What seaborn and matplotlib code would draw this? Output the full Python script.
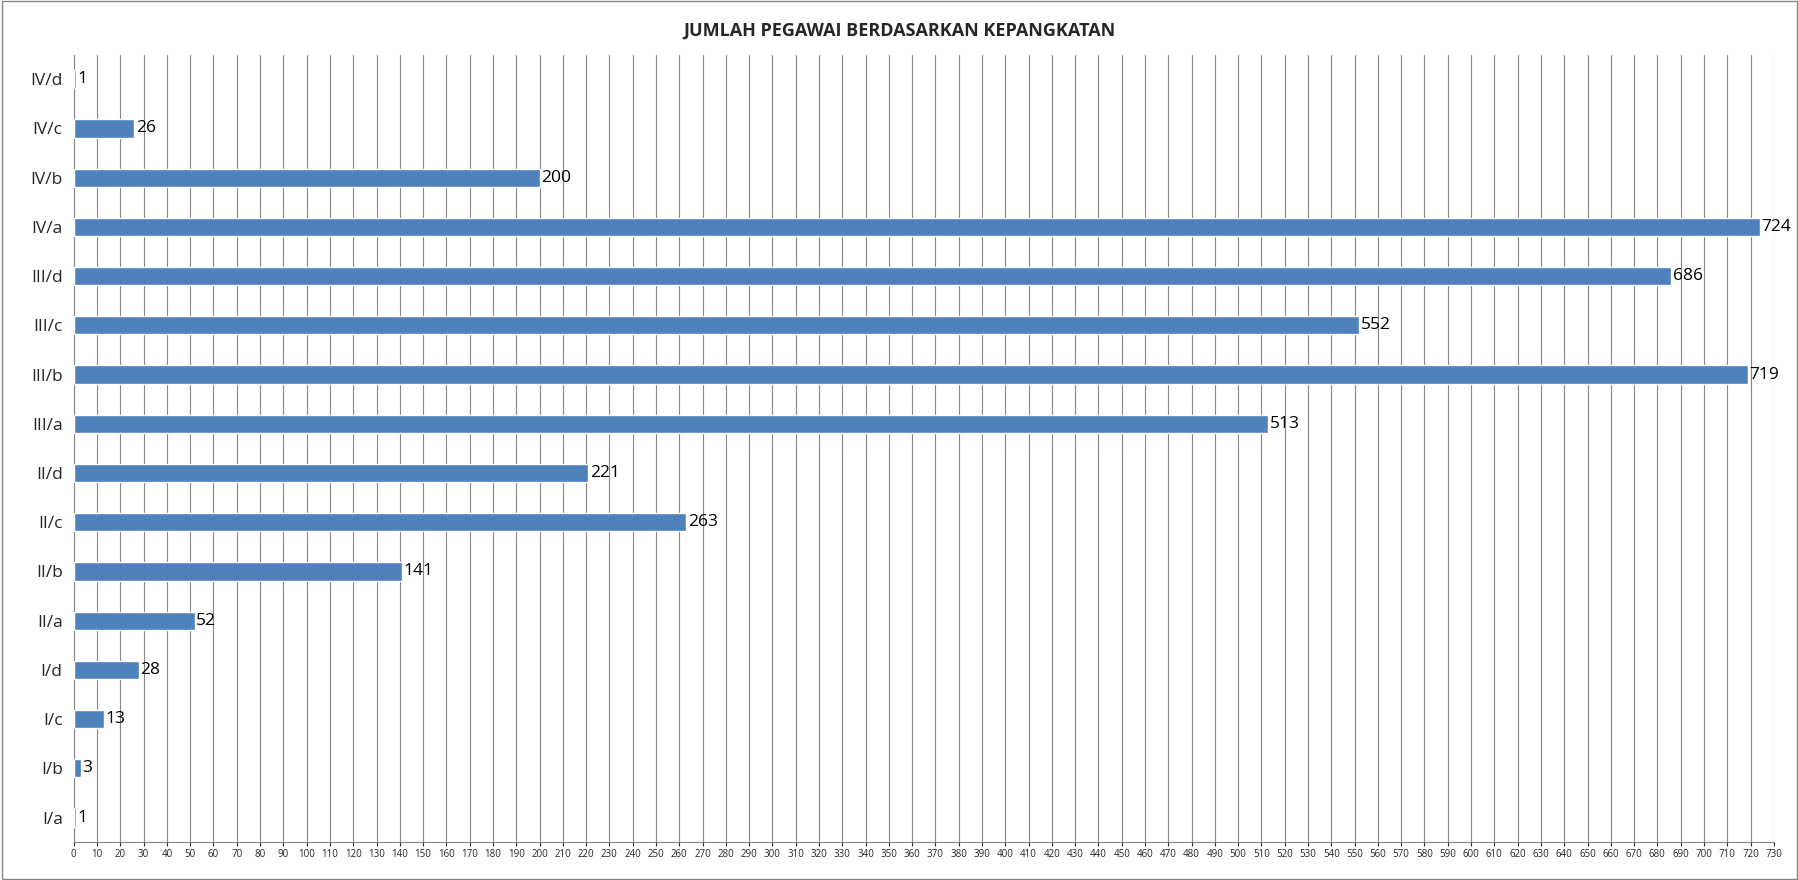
import matplotlib
matplotlib.use("Agg")
import matplotlib.pyplot as plt
import seaborn as sns
import pandas as pd
from matplotlib.patches import Rectangle

categories = ["IV/d","IV/c","IV/b","IV/a","III/d","III/c","III/b","III/a",
              "II/d","II/c","II/b","II/a","I/d","I/c","I/b","I/a"]
values = [1,26,200,724,686,552,719,513,221,263,141,52,28,13,3,1]

sns.set_style("white")
plt.rcParams['font.family'] = ['Open Sans', 'DejaVu Sans']

fig = plt.figure(figsize=(17.99, 8.80), dpi=100)
ax = fig.add_axes([0.041, 0.043, 0.945, 0.895])
df = pd.DataFrame({"cat": categories, "val": values})
sns.barplot(data=df, x="val", y="cat", orient="h", color="#4F81BD",
            saturation=1, width=0.37, ax=ax, zorder=3)
for p, v in zip(ax.patches, values):
    ax.text(p.get_width() + 0.6, p.get_y() + p.get_height()/2, str(v),
            va="center", ha="left", fontsize=12.5, color="black", zorder=4)
ax.set_xlim(0, 730)
ax.set_xticks(range(0, 731, 10))
ax.tick_params(axis="x", labelsize=7, length=3, bottom=True, pad=2)
ax.tick_params(axis="y", labelsize=12.5, length=0, pad=8)
ax.set_xlabel(""); ax.set_ylabel("")
ax.grid(axis="x", color="#868686", linewidth=0.8, zorder=0)
for s in ["top", "right"]:
    ax.spines[s].set_visible(False)
ax.spines["left"].set_color("#868686")
ax.spines["bottom"].set_color("#868686")
fig.suptitle("JUMLAH PEGAWAI BERDASARKAN KEPANGKATAN", y=0.975,
             fontsize=13, fontweight="bold")
fig.patches.append(Rectangle((0.001, 0.001), 0.998, 0.998, transform=fig.transFigure,
                             fill=False, edgecolor="#868686", linewidth=1))
fig.savefig("out.png", dpi=100)
